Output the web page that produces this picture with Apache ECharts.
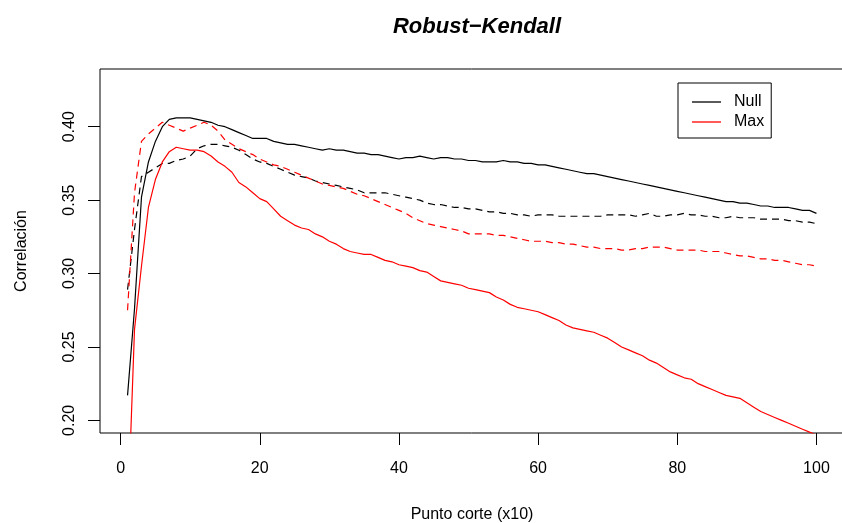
<!DOCTYPE html>
<html>
<head>
<meta charset="utf-8">
<script src="https://cdn.jsdelivr.net/npm/echarts@6/dist/echarts.min.js"></script>
<style>html,body{margin:0;padding:0;background:#fff}#c{width:842px;height:523px}</style>
</head>
<body>
<div id="c"></div>
<script>
const xValues = Array.from({length:100},(_, i)=>i+1);
const nullSolid = [0.217,0.276,0.352,0.376,0.390,0.400,0.405,0.406,0.406,0.406,
0.405,0.404,0.403,0.401,0.400,0.398,0.396,0.394,0.392,0.392,
0.392,0.390,0.389,0.388,0.388,0.387,0.386,0.385,0.384,0.385,
0.384,0.384,0.383,0.382,0.382,0.381,0.381,0.380,0.379,0.378,
0.379,0.379,0.380,0.379,0.378,0.379,0.379,0.378,0.378,0.377,
0.377,0.376,0.376,0.376,0.377,0.376,0.376,0.375,0.375,0.374,
0.374,0.373,0.372,0.371,0.370,0.369,0.368,0.368,0.367,0.366,
0.365,0.364,0.363,0.362,0.361,0.360,0.359,0.358,0.357,0.356,
0.355,0.354,0.353,0.352,0.351,0.350,0.349,0.349,0.348,0.348,
0.347,0.346,0.346,0.345,0.345,0.345,0.344,0.343,0.343,0.341];
const maxSolid = [0.130,0.262,0.305,0.345,0.364,0.376,0.383,0.386,0.385,0.384,
0.384,0.383,0.380,0.376,0.373,0.369,0.362,0.359,0.355,0.351,
0.349,0.344,0.339,0.336,0.333,0.331,0.330,0.327,0.325,0.322,
0.320,0.317,0.315,0.314,0.313,0.313,0.311,0.309,0.308,0.306,
0.305,0.304,0.302,0.301,0.298,0.295,0.294,0.293,0.292,0.290,
0.289,0.288,0.287,0.284,0.282,0.279,0.277,0.276,0.275,0.274,
0.272,0.270,0.268,0.265,0.263,0.262,0.261,0.260,0.258,0.256,
0.253,0.250,0.248,0.246,0.244,0.241,0.239,0.236,0.233,0.231,
0.229,0.228,0.225,0.223,0.221,0.219,0.217,0.216,0.215,0.212,
0.209,0.206,0.204,0.202,0.200,0.198,0.196,0.194,0.192,0.190];
const nullDashed = [0.289,0.330,0.366,0.369,0.372,0.375,0.375,0.377,0.378,0.380,
0.385,0.387,0.388,0.388,0.387,0.386,0.384,0.381,0.378,0.376,
0.375,0.373,0.371,0.369,0.367,0.366,0.365,0.363,0.362,0.361,
0.360,0.359,0.358,0.357,0.355,0.355,0.355,0.355,0.354,0.353,
0.352,0.351,0.350,0.348,0.347,0.347,0.346,0.345,0.345,0.344,
0.344,0.343,0.342,0.342,0.341,0.341,0.340,0.340,0.339,0.340,
0.340,0.340,0.339,0.339,0.339,0.339,0.339,0.339,0.339,0.340,
0.340,0.340,0.340,0.339,0.340,0.341,0.339,0.339,0.340,0.340,
0.341,0.340,0.340,0.339,0.339,0.338,0.338,0.339,0.338,0.338,
0.338,0.337,0.337,0.337,0.337,0.336,0.336,0.335,0.335,0.334];
const maxDashed = [0.275,0.355,0.390,0.395,0.399,0.403,0.401,0.399,0.397,0.399,
0.401,0.403,0.401,0.397,0.391,0.388,0.385,0.383,0.381,0.378,
0.376,0.374,0.373,0.371,0.369,0.367,0.365,0.363,0.361,0.360,
0.359,0.358,0.356,0.354,0.353,0.351,0.349,0.347,0.345,0.343,
0.341,0.338,0.336,0.334,0.333,0.332,0.331,0.330,0.329,0.327,
0.327,0.327,0.327,0.326,0.326,0.325,0.324,0.323,0.322,0.322,
0.322,0.321,0.321,0.320,0.320,0.319,0.318,0.318,0.317,0.317,
0.317,0.316,0.316,0.317,0.317,0.318,0.318,0.318,0.317,0.316,
0.316,0.316,0.316,0.315,0.315,0.315,0.314,0.313,0.312,0.312,
0.311,0.310,0.310,0.309,0.309,0.308,0.307,0.306,0.306,0.305];
const xTicks = [0,20,40,60,80,100];
const yTicks = [0.20,0.25,0.30,0.35,0.40];
const legendNames = ['Null','Max'];

const FONT = '"Liberation Sans", Arial, Helvetica, sans-serif';
const pair = arr => xValues.map((x,i)=>[x,arr[i]]);
const chart = echarts.init(document.getElementById('c'), null, {renderer:'canvas'});
function line(name, data, color, dashed){
  return {name, type:'line', data:pair(data), showSymbol:false, symbol:'none', clip:true,
    lineStyle:{color, width:1.2, type: dashed ? [7,5] : 'solid'}, itemStyle:{color},
    animation:false, z: dashed?2:3};
}
const LEG_ICON = 'path://M0,0L29,0L29,1.3L0,1.3Z';
chart.setOption({
  animation:false,
  backgroundColor:'#fff',
  title:{text:'Robust\u2212Kendall', left:472, top:11, textAlign:'center',
    textStyle:{fontFamily:FONT, fontSize:22, fontWeight:'bold', fontStyle:'italic', color:'#000'}},
  grid:{left:100, top:69, width:744, height:364, show:true, borderColor:'#000', borderWidth:1,
    backgroundColor:'transparent', containLabel:false, outerBoundsMode:'none'},
  legend:{data:legendNames.map(n=>({name:n, icon:LEG_ICON})), orient:'vertical', left:678, top:83,
    itemWidth:29, itemHeight:1.3, itemGap:4,
    padding:[11,7,8,14], borderColor:'#000', borderWidth:1, borderRadius:0,
    textStyle:{fontFamily:FONT, fontSize:16, color:'#000', lineHeight:14, padding:[0,0,0,8]}},
  xAxis:{type:'value', min:-2.96, max:103.96, name:'Punto corte (x10)', nameLocation:'middle', nameGap:74,
    nameTextStyle:{fontFamily:FONT, fontSize:16, color:'#000'},
    axisLine:{show:false, onZero:false}, splitLine:{show:false},
    axisTick:{show:true, inside:false, length:12, lineStyle:{color:'#000', width:1}, customValues:xTicks},
    axisLabel:{fontFamily:FONT, fontSize:16, color:'#000', margin:28, customValues:xTicks, formatter:v=>String(v)}},
  yAxis:{type:'value', min:0.1914, max:0.4393, name:'Correlación', nameLocation:'middle', nameGap:70,
    nameTextStyle:{fontFamily:FONT, fontSize:16, color:'#000'},
    axisLine:{show:false, onZero:false}, splitLine:{show:false},
    axisTick:{show:true, inside:false, length:12, lineStyle:{color:'#000', width:1}, customValues:yTicks},
    axisLabel:{fontFamily:FONT, fontSize:16, color:'#000', margin:22, rotate:90, customValues:yTicks, formatter:v=>v.toFixed(2)}},
  series:[
    line('Null dashed', nullDashed, '#000', true),
    line('Max dashed', maxDashed, '#ff0000', true),
    line('Null', nullSolid, '#000', false),
    line('Max', maxSolid, '#ff0000', false)
  ]
});
</script>
</body>
</html>
